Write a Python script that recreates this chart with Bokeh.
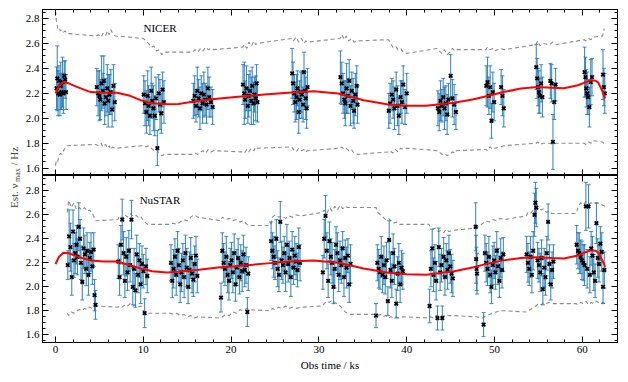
import math
from bokeh.plotting import figure
from bokeh.models import (Range1d, LinearAxis, SingleIntervalTicker, PrintfTickFormatter,
                          Label, ColumnDataSource)
from bokeh.layouts import column, row
from bokeh.embed import file_html
from bokeh.resources import INLINE

FONT = "Liberation Serif"

# ---------------- NICER data ----------------
nicer_t = [0.12,0.2,0.3,0.4,0.5,0.6,0.7,0.8,0.9,1.0,1.1,1.2,
           4.7,4.85,5.0,5.1,5.25,5.4,5.5,5.6,5.75,5.9,6.0,6.15,6.3,6.45,6.6,6.75,
           10.05,10.2,10.35,10.5,10.6,10.75,10.9,11.0,11.15,11.3,11.45,11.6,11.75,11.9,12.05,12.2,12.35,
           15.7,15.85,16.0,16.15,16.3,16.45,16.6,16.75,16.9,17.05,17.2,17.35,17.5,17.7,17.9,
           21.35,21.5,21.6,21.75,21.9,22.0,22.15,22.3,22.4,22.55,22.65,22.8,22.9,23.0,
           26.95,27.05,27.2,27.3,27.45,27.55,27.7,27.8,27.95,28.05,28.2,28.3,28.4,28.5,28.6,28.7,
           32.45,32.6,32.75,32.9,33.0,33.15,33.3,33.45,33.6,33.75,33.9,34.0,34.15,34.3,34.4,
           37.95,38.1,38.3,38.45,38.6,38.8,38.95,39.1,39.3,39.45,39.6,39.8,40.0,
           43.55,43.7,43.85,44.0,44.15,44.3,44.45,44.6,44.75,45.0,45.2,45.4,45.6,
           49.05,49.2,49.35,49.5,49.65,49.8,49.95,50.75,50.9,51.05,
           54.75,54.85,54.95,55.05,55.15,55.3,55.45,56.35,56.5,56.65,56.8,56.95,
           60.25,60.35,60.45,60.55,60.65,60.8,60.95,61.1,62.35,62.45,62.55]
nicer_nu = [2.24,2.32,2.20,2.30,2.19,2.26,2.21,2.29,2.20,2.34,2.31,2.21,
            2.25,2.20,2.18,2.15,2.28,2.22,2.30,2.12,2.17,2.24,2.14,2.19,2.21,2.07,2.26,2.13,
            2.19,2.12,2.05,2.18,2.10,2.02,2.22,2.14,2.08,2.02,2.16,1.76,2.20,2.11,2.04,2.23,2.13,
            2.14,2.18,2.10,2.22,2.16,2.08,2.20,2.12,2.19,2.15,2.11,2.24,2.17,2.13,2.09,
            2.27,2.20,2.15,2.24,2.10,2.18,2.22,2.14,2.26,2.12,2.19,2.16,2.28,2.13,
            2.36,2.28,2.20,2.13,2.17,2.24,2.05,2.15,2.21,2.19,2.11,2.37,2.22,2.16,2.08,2.25,
            2.33,2.28,2.20,2.15,2.12,2.24,2.18,2.30,2.10,2.22,2.14,2.06,2.19,2.26,2.11,
            2.06,2.12,2.19,2.15,2.08,2.23,2.10,2.02,2.17,2.13,2.27,2.09,2.20,
            2.08,2.05,2.14,2.10,2.17,2.08,2.12,2.03,2.15,2.34,2.16,2.11,2.05,
            2.26,2.29,2.18,2.25,1.98,2.21,2.13,2.25,2.18,2.08,
            2.41,2.32,2.25,2.21,2.18,2.28,2.17,2.30,2.28,1.81,2.13,2.27,
            2.37,2.33,2.24,2.20,2.17,2.09,2.29,2.33,2.35,2.25,2.20]
nicer_err = [0.17,0.26,0.18,0.12,0.17,0.19,0.14,0.2,0.16,0.12,0.15,0.14,
             0.15,0.18,0.2,0.16,0.22,0.14,0.2,0.17,0.15,0.19,0.21,0.16,0.18,0.14,0.17,0.15,
             0.15,0.18,0.17,0.2,0.16,0.15,0.19,0.14,0.18,0.16,0.17,0.14,0.15,0.2,0.16,0.14,0.17,
             0.14,0.16,0.13,0.19,0.15,0.17,0.14,0.16,0.18,0.13,0.15,0.17,0.16,0.12,0.14,
             0.16,0.25,0.15,0.18,0.14,0.17,0.16,0.19,0.15,0.17,0.14,0.18,0.15,0.16,
             0.2,0.17,0.15,0.16,0.18,0.14,0.17,0.15,0.16,0.19,0.14,0.16,0.15,0.17,0.16,0.15,
             0.21,0.17,0.16,0.15,0.18,0.2,0.14,0.17,0.16,0.15,0.18,0.14,0.17,0.16,0.15,
             0.14,0.16,0.13,0.15,0.17,0.14,0.16,0.15,0.13,0.17,0.15,0.14,0.16,
             0.14,0.15,0.16,0.13,0.15,0.17,0.14,0.16,0.13,0.17,0.15,0.16,0.14,
             0.16,0.2,0.15,0.17,0.14,0.16,0.15,0.14,0.16,0.15,
             0.18,0.16,0.15,0.17,0.14,0.15,0.16,0.14,0.15,0.22,0.14,0.13,
             0.2,0.16,0.15,0.17,0.14,0.16,0.18,0.15,0.2,0.15,0.16]

nicer_model_t = [0,0.4,0.9,1.5,2.5,4.0,5.5,7.0,8.5,9.7,11.0,12.7,14.0,15.4,17.5,20.5,23.8,26.5,29.4,
                 32.2,35.1,37.9,40.0,42.2,45.4,47.5,49.2,51.0,53.0,54.9,56.5,57.9,59.5,60.4,61.0,61.5,
                 61.8,62.2,62.6]
nicer_model = [2.20,2.26,2.29,2.28,2.25,2.21,2.205,2.205,2.18,2.145,2.12,2.112,2.115,2.13,2.15,2.17,
               2.19,2.205,2.216,2.198,2.144,2.11,2.10,2.10,2.124,2.15,2.178,2.21,2.238,2.25,2.245,
               2.24,2.265,2.29,2.305,2.30,2.287,2.23,2.16]

nicer_band_t = [0.0,0.1,0.25,0.4,0.55,0.7,0.9,1.1,1.3,4.6,4.9,5.2,5.4,5.7,5.9,6.1,6.3,6.5,6.8,
                10.0,10.3,10.6,10.9,11.2,11.5,11.8,12.1,12.4,15.6,15.9,16.2,16.5,16.8,17.1,17.4,17.7,18.0,
                21.3,21.5,21.8,22.0,22.3,22.6,22.8,23.0,26.9,27.1,27.4,27.7,28.0,28.3,28.5,28.7,
                32.4,32.6,32.9,33.1,33.4,33.7,34.0,34.4,37.9,38.1,38.4,38.7,39.0,39.3,39.6,40.0,
                43.5,43.7,44.0,44.3,44.6,44.9,45.2,45.5,45.7,49.0,49.2,49.5,49.8,50.0,50.7,51.1,
                54.7,54.9,55.2,55.5,56.3,56.6,57.0,60.2,60.4,60.7,61.0,61.2,62.3,62.5]
nicer_up = [2.86,2.78,2.72,2.73,2.70,2.71,2.69,2.70,2.68,2.66,2.67,2.65,2.68,2.66,2.70,2.67,2.71,2.68,2.66,
            2.64,2.62,2.60,2.57,2.58,2.54,2.55,2.51,2.53,2.53,2.55,2.53,2.56,2.54,2.57,2.55,2.56,2.55,
            2.57,2.59,2.56,2.61,2.58,2.62,2.59,2.60,2.64,2.62,2.65,2.61,2.64,2.60,2.62,2.61,
            2.64,2.67,2.63,2.66,2.62,2.64,2.61,2.62,2.63,2.61,2.57,2.58,2.55,2.56,2.53,2.52,
            2.56,2.54,2.52,2.55,2.51,2.53,2.56,2.54,2.55,2.55,2.57,2.55,2.56,2.54,2.56,2.55,
            2.59,2.62,2.58,2.60,2.59,2.61,2.59,2.63,2.62,2.64,2.63,2.65,2.66,2.72]
nicer_lo = [1.62,1.66,1.65,1.70,1.72,1.71,1.74,1.76,1.78,1.79,1.78,1.80,1.77,1.79,1.76,1.78,1.75,1.77,1.76,
            1.78,1.77,1.78,1.76,1.74,1.75,1.72,1.70,1.71,1.71,1.72,1.71,1.73,1.74,1.72,1.75,1.73,1.74,
            1.73,1.72,1.75,1.73,1.76,1.74,1.77,1.76,1.77,1.75,1.73,1.76,1.74,1.75,1.73,1.74,
            1.76,1.77,1.75,1.76,1.74,1.75,1.72,1.71,1.73,1.74,1.72,1.75,1.73,1.76,1.75,1.76,
            1.74,1.73,1.71,1.72,1.70,1.71,1.73,1.72,1.74,1.75,1.74,1.77,1.75,1.76,1.77,1.78,
            1.80,1.81,1.79,1.80,1.80,1.79,1.80,1.80,1.79,1.81,1.80,1.82,1.81,1.79]

# ---------------- NuSTAR data ----------------
nustar_t = [1.4,1.55,1.7,1.85,2.0,2.1,2.25,2.4,2.5,2.65,2.8,2.9,3.05,3.2,3.35,3.5,3.6,3.75,3.9,4.05,4.2,4.35,4.45,4.55,
            7.15,7.3,7.45,7.6,7.75,7.9,8.05,8.2,8.35,8.5,8.65,8.8,8.95,9.1,9.25,9.4,9.55,9.7,9.85,10.0,10.15,10.3,10.45,
            13.15,13.3,13.45,13.6,13.75,13.9,14.05,14.2,14.35,14.5,14.65,14.8,14.95,15.1,15.25,15.4,15.55,15.7,15.85,16.0,16.15,
            18.85,19.0,19.15,19.3,19.45,19.6,19.75,19.9,20.05,20.2,20.35,20.5,20.65,20.8,20.95,21.1,21.25,21.4,21.55,21.7,21.85,21.95,
            24.55,24.7,24.85,25.0,25.15,25.3,25.45,25.6,25.75,25.9,26.05,26.2,26.35,26.5,26.65,26.8,26.95,27.1,27.25,27.4,27.55,27.7,27.85,
            30.45,30.6,30.75,30.9,31.05,31.2,31.35,31.5,31.65,31.8,31.95,32.1,32.25,32.4,32.55,32.7,32.85,33.0,33.15,33.3,33.45,33.6,
            36.5,36.65,36.8,36.95,37.1,37.25,37.4,37.55,37.7,37.85,38.0,38.15,38.3,38.45,38.6,38.8,38.95,39.1,39.25,39.4,39.55,
            42.6,42.75,42.9,43.05,43.2,43.35,43.5,43.65,43.8,43.95,44.05,44.2,44.35,44.5,44.65,44.8,44.95,45.1,45.25,
            47.85,47.9,47.95,48.0,
            48.75,48.9,49.05,49.2,49.35,49.5,49.65,49.8,49.95,50.1,50.25,50.4,50.55,50.7,50.85,51.0,
            53.65,53.8,53.95,54.1,54.25,54.4,54.55,54.65,54.75,54.9,55.05,55.2,55.35,55.5,55.65,55.8,55.95,56.1,56.25,56.4,56.55,56.7,
            59.35,59.5,59.65,59.8,59.95,60.1,60.25,60.4,60.55,60.7,60.85,61.0,61.15,61.3,61.45,61.6,61.75,61.9,62.05,62.2,62.35,62.5]
nustar_nu = [2.18,2.42,2.33,2.08,2.46,2.22,2.28,2.35,2.25,2.50,2.40,2.20,2.04,2.32,2.27,2.15,2.30,2.10,2.24,2.29,2.17,2.31,1.93,1.85,
             2.21,2.08,2.35,2.56,2.28,2.05,2.25,2.12,2.30,2.18,2.56,2.00,2.15,1.97,2.27,2.10,2.22,2.02,2.19,2.13,1.78,2.17,2.09,
             2.20,2.05,2.15,2.25,2.10,2.30,2.18,2.02,2.12,2.22,2.08,2.28,2.16,2.00,2.14,2.24,2.11,2.06,2.19,2.26,2.09,
             1.91,2.30,2.20,2.15,2.25,2.10,2.05,2.18,2.22,2.12,2.28,2.02,2.16,2.24,2.08,2.20,2.13,2.27,2.14,2.18,1.79,2.11,
             2.38,2.30,2.25,2.20,2.40,2.15,2.10,2.54,2.22,2.18,2.28,2.12,2.35,2.19,2.24,2.08,2.31,2.16,2.26,2.21,2.14,2.33,2.20,
             2.12,2.40,2.59,2.30,2.05,2.38,2.25,2.20,2.00,2.15,2.35,2.28,2.10,2.22,2.18,2.32,2.08,2.24,2.16,2.26,2.02,2.19,
             1.76,2.20,2.15,2.12,2.25,2.10,2.18,2.08,2.22,1.88,2.39,2.14,2.05,2.28,2.17,1.86,2.11,2.20,2.02,2.16,2.13,
             1.84,2.15,2.32,2.10,2.20,2.05,1.74,2.33,2.12,2.18,1.74,2.25,2.08,2.22,2.14,2.28,2.17,2.11,2.07,
             2.50,2.23,2.15,2.11,
             1.685,2.28,2.20,2.15,2.25,2.10,2.00,2.18,2.22,2.12,2.30,2.17,2.05,2.24,2.14,2.27,
             2.27,2.20,2.15,2.25,2.10,2.30,2.60,2.70,2.66,2.22,2.18,2.12,2.24,1.98,2.16,2.08,2.28,2.54,2.19,2.02,2.14,2.21,
             2.35,2.30,2.28,2.25,2.22,2.20,2.18,2.67,2.15,2.67,2.10,2.32,2.26,2.12,2.05,2.53,2.24,2.19,2.36,2.29,2.00,2.14]
nustar_err = [0.12,0.22,0.2,0.15,0.18,0.14,0.17,0.16,0.15,0.2,0.16,0.14,0.15,0.17,0.16,0.14,0.15,0.17,0.13,0.16,0.15,0.14,0.13,0.12,
              0.14,0.15,0.16,0.17,0.18,0.14,0.16,0.15,0.17,0.14,0.16,0.15,0.17,0.14,0.16,0.15,0.14,0.16,0.15,0.14,0.12,0.15,0.14,
              0.15,0.14,0.16,0.15,0.17,0.16,0.14,0.15,0.16,0.14,0.17,0.15,0.16,0.14,0.15,0.17,0.16,0.14,0.15,0.16,0.14,
              0.12,0.15,0.16,0.14,0.17,0.15,0.16,0.14,0.15,0.17,0.16,0.14,0.15,0.16,0.14,0.15,0.17,0.16,0.14,0.15,0.12,0.14,
              0.16,0.15,0.17,0.14,0.16,0.15,0.14,0.17,0.16,0.15,0.14,0.16,0.17,0.15,0.14,0.16,0.15,0.14,0.16,0.15,0.14,0.16,0.15,
              0.14,0.16,0.17,0.15,0.14,0.16,0.15,0.17,0.14,0.16,0.15,0.17,0.14,0.16,0.15,0.14,0.16,0.15,0.17,0.14,0.15,0.16,
              0.1,0.15,0.16,0.14,0.17,0.15,0.16,0.14,0.15,0.12,0.16,0.15,0.14,0.16,0.15,0.12,0.14,0.16,0.15,0.14,0.15,
              0.14,0.15,0.16,0.14,0.15,0.16,0.1,0.16,0.15,0.14,0.1,0.16,0.15,0.14,0.16,0.15,0.14,0.16,0.15,
              0.2,0.2,0.18,0.17,
              0.1,0.15,0.16,0.14,0.17,0.15,0.14,0.16,0.15,0.14,0.16,0.15,0.14,0.16,0.15,0.14,
              0.15,0.16,0.14,0.17,0.15,0.16,0.18,0.17,0.16,0.15,0.14,0.16,0.15,0.13,0.16,0.15,0.14,0.15,0.16,0.13,0.15,0.14,
              0.16,0.15,0.17,0.14,0.16,0.15,0.17,0.2,0.16,0.18,0.15,0.14,0.16,0.15,0.14,0.17,0.16,0.15,0.14,0.16,0.14,0.15]

nustar_model_t = [0,0.4,0.9,1.5,2.1,3.0,4.0,5.5,7.0,8.5,9.7,11.0,12.7,14.0,16.1,18.5,20.5,23.8,26.5,29.4,
                  32.2,35.1,37.9,40.0,42.2,45.4,47.5,49.2,51.0,53.0,54.9,56.5,57.9,59.5,60.4,61.0,61.5,61.8,62.2,62.6]
nustar_model = [2.19,2.25,2.284,2.28,2.262,2.24,2.22,2.21,2.21,2.18,2.152,2.13,2.12,2.125,2.14,2.16,2.171,
                2.193,2.21,2.22,2.20,2.152,2.117,2.105,2.10,2.13,2.16,2.193,2.22,2.24,2.246,2.24,2.235,2.26,
                2.29,2.303,2.30,2.285,2.23,2.166]

nustar_band_t = [1.35,1.5,1.8,2.1,2.4,2.7,3.0,3.3,3.6,3.9,4.2,4.6,
                 7.1,7.3,7.6,7.9,8.2,8.5,8.8,9.1,9.4,9.7,10.0,10.3,10.5,
                 13.1,13.4,13.8,14.2,14.6,15.0,15.4,15.8,16.2,
                 18.8,19.0,19.4,19.8,20.2,20.6,21.0,21.4,21.8,22.0,
                 24.5,24.7,25.0,25.4,25.8,26.2,26.6,27.0,27.4,27.9,
                 30.4,30.6,30.9,31.2,31.5,31.8,32.1,32.4,32.7,33.0,33.3,33.6,
                 36.5,36.7,37.0,37.3,37.6,37.9,38.2,38.5,38.8,39.1,39.6,
                 42.5,42.7,43.0,43.3,43.6,43.9,44.2,44.5,44.8,45.3,
                 47.9,48.7,49.0,49.4,49.8,50.2,50.6,51.1,
                 53.6,53.8,54.1,54.4,54.7,55.0,55.3,55.6,55.9,56.2,56.5,56.8,
                 59.3,59.5,59.8,60.1,60.4,60.7,61.0,61.3,61.6,62.0,62.3,62.6]
nustar_up = [2.62,2.72,2.66,2.70,2.64,2.66,2.64,2.66,2.63,2.64,2.61,2.55,
             2.56,2.59,2.57,2.60,2.58,2.61,2.59,2.60,2.58,2.59,2.55,2.53,2.52,
             2.52,2.53,2.52,2.54,2.56,2.55,2.58,2.60,2.58,
             2.55,2.58,2.56,2.57,2.55,2.56,2.54,2.55,2.52,2.51,
             2.51,2.58,2.60,2.58,2.59,2.57,2.59,2.58,2.60,2.59,
             2.62,2.64,2.61,2.66,2.63,2.67,2.64,2.68,2.65,2.67,2.66,2.66,
             2.66,2.62,2.60,2.58,2.56,2.57,2.55,2.53,2.54,2.52,2.52,
             2.52,2.50,2.48,2.49,2.46,2.47,2.45,2.48,2.46,2.47,
             2.49,2.53,2.55,2.54,2.56,2.55,2.57,2.56,
             2.59,2.62,2.61,2.64,2.63,2.66,2.64,2.65,2.62,2.63,2.61,2.61,
             2.61,2.66,2.70,2.68,2.71,2.69,2.70,2.69,2.70,2.69,2.68,2.67]
nustar_lo = [1.78,1.76,1.79,1.78,1.80,1.81,1.80,1.82,1.81,1.83,1.82,1.84,
             1.83,1.84,1.83,1.85,1.84,1.86,1.84,1.85,1.83,1.84,1.80,1.78,1.78,
             1.78,1.77,1.78,1.76,1.77,1.75,1.76,1.74,1.75,
             1.74,1.75,1.77,1.76,1.79,1.78,1.81,1.80,1.82,1.81,
             1.80,1.82,1.81,1.83,1.82,1.84,1.82,1.83,1.82,1.83,
             1.84,1.86,1.88,1.87,1.89,1.87,1.86,1.84,1.82,1.79,1.78,1.77,
             1.77,1.76,1.77,1.75,1.76,1.74,1.75,1.74,1.75,1.74,1.75,
             1.74,1.75,1.74,1.76,1.75,1.76,1.75,1.77,1.76,1.76,
             1.75,1.74,1.76,1.77,1.78,1.79,1.80,1.80,
             1.79,1.80,1.81,1.83,1.84,1.86,1.85,1.87,1.86,1.87,1.86,1.86,
             1.86,1.85,1.87,1.86,1.88,1.85,1.87,1.86,1.88,1.86,1.87,1.86]

x_ticks_interval = 10
y_ticks_interval = 0.2

BLUE = "#1f77b4"
GRAY = "#8a8a8a"


def style_axis(ax, ticker, labels):
    ax.ticker = ticker
    ax.major_tick_in = 6
    ax.major_tick_out = 0
    ax.minor_tick_in = 3
    ax.minor_tick_out = 0
    ax.axis_line_color = "black"
    ax.major_tick_line_color = "black"
    ax.minor_tick_line_color = "black"
    ax.major_label_text_font = FONT
    ax.axis_label_text_font = FONT
    ax.axis_label_text_font_style = "normal"
    ax.axis_label_text_color = "black"
    if labels:
        ax.major_label_text_font_size = "11px"
        ax.major_label_text_color = "black"
        ax.major_label_standoff = 3
    else:
        ax.major_label_text_font_size = "0px"
        ax.major_label_text_color = None
        ax.major_label_standoff = 0


def make_panel(xr, yr, t, nu, err, mt, mv, bt, up, lo, name, name_y, frame_h,
               bottom_labels, border_top, border_bottom):
    p = figure(frame_width=575, frame_height=frame_h, x_range=xr, y_range=yr,
               output_backend="svg", toolbar_location=None, title=None,
               min_border_left=20, min_border_right=11,
               min_border_top=border_top, min_border_bottom=border_bottom)
    p.grid.visible = False
    p.outline_line_color = "black"
    p.background_fill_color = "white"
    p.border_fill_color = "white"
    p.add_layout(LinearAxis(), "right")
    p.add_layout(LinearAxis(), "above")
    xt = SingleIntervalTicker(interval=x_ticks_interval, num_minor_ticks=5)
    yt = SingleIntervalTicker(interval=y_ticks_interval, num_minor_ticks=4)
    for ax in p.below:
        style_axis(ax, xt, bottom_labels)
    for ax in p.above:
        style_axis(ax, xt, False)
    for ax in p.left:
        style_axis(ax, yt, True)
        ax.formatter = PrintfTickFormatter(format="%.1f")
    for ax in p.right:
        style_axis(ax, yt, False)

    # confidence band (dashed gray)
    p.line(bt, up, line_color=GRAY, line_width=1.1, line_dash="4 3")
    p.line(bt, lo, line_color=GRAY, line_width=1.1, line_dash="4 3")

    src = ColumnDataSource(dict(t=t, nu=nu,
                                hi=[a + b for a, b in zip(nu, err)],
                                lo=[a - b for a, b in zip(nu, err)]))
    p.segment(x0="t", y0="lo", x1="t", y1="hi", source=src,
              line_color=BLUE, line_width=1.1, line_alpha=0.85)
    p.scatter(x="t", y="hi", source=src, marker="dash", size=4,
              line_color=BLUE, line_width=1, line_alpha=0.85)
    p.scatter(x="t", y="lo", source=src, marker="dash", size=4,
              line_color=BLUE, line_width=1, line_alpha=0.85)
    p.scatter(x="t", y="nu", source=src, marker="x", size=5,
              line_color="black", line_width=1.8)
    p.line(mt, mv, line_color="red", line_width=2)

    p.add_layout(Label(x=11.9, y=name_y, text=name, text_align="center",
                       text_baseline="middle", text_font=FONT,
                       text_font_size="11px", text_color="black"))
    return p


xr = Range1d(-1.48, 64.0)
p1 = make_panel(xr, Range1d(1.541, 2.872), nicer_t, nicer_nu, nicer_err,
                nicer_model_t, nicer_model, nicer_band_t, nicer_up, nicer_lo,
                "NICER", 2.726, 166, False, 9, 0)
p2 = make_panel(xr, Range1d(1.536, 2.927), nustar_t, nustar_nu, nustar_err,
                nustar_model_t, nustar_model, nustar_band_t, nustar_up, nustar_lo,
                "NuSTAR", 2.726, 167, True, 0, 40)
bx = p2.below[0]
bx.axis_label = "Obs time / ks"
bx.axis_label_text_font_size = "11px"
bx.axis_label_standoff = 3
bx.major_label_standoff = 3

# y-axis title spanning both panels
sp = figure(width=22, height=382, x_range=Range1d(0, 22), y_range=Range1d(0, 382),
            output_backend="svg", toolbar_location=None, min_border=0, title=None,
            x_axis_location=None, y_axis_location=None)
sp.grid.visible = False
sp.outline_line_color = None
a = math.pi / 2
sp.add_layout(Label(x=13.5, y=174.5, text="Est. ν", angle=a, text_align="left",
                    text_baseline="middle", text_font=FONT, text_font_size="11px"))
sp.add_layout(Label(x=16.5, y=200.5, text="max", angle=a, text_align="left",
                    text_baseline="middle", text_font=FONT, text_font_size="8px"))
sp.add_layout(Label(x=13.5, y=217.0, text="/ Hz", angle=a, text_align="left",
                    text_baseline="middle", text_font=FONT, text_font_size="11px"))

layout = row(sp, column(p1, p2))
open("out.html", "w").write(file_html(layout, INLINE))
